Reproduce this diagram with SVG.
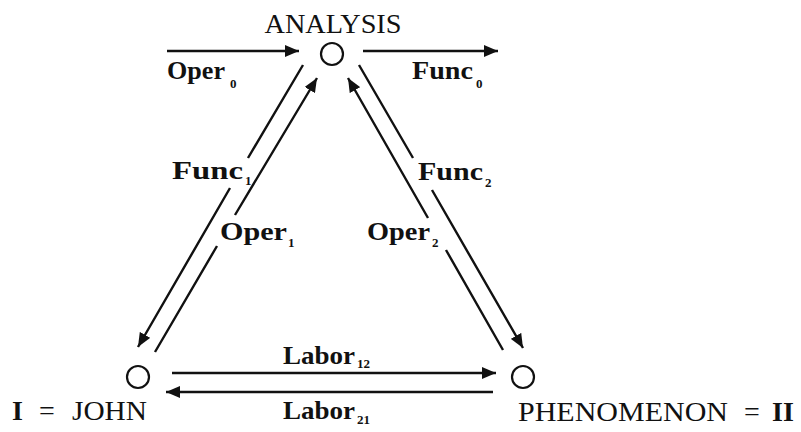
<svg xmlns="http://www.w3.org/2000/svg" width="801" height="432" viewBox="0 0 801 432">
<style>
text { font-family: "Liberation Serif", "DejaVu Serif", "Times New Roman", serif; fill: #111; }
.node { fill: none; stroke: #111; stroke-width: 2.2; }
.name { font-size: 28px; }
.lbl { font-size: 25px; font-weight: bold; }
.sub { font-size: 13px; font-weight: bold; }
.arr { fill: none; stroke: #111; stroke-width: 2.4; marker-end: url(#ah); }
</style>
<defs>
<marker id="ah" markerUnits="userSpaceOnUse" markerWidth="16" markerHeight="12" refX="14" refY="6" orient="auto">
<path d="M0,0 L14,6 L0,12 z" fill="#111"/>
</marker>
</defs>

<g id="analysis">
<circle class="node" cx="332" cy="54" r="11"/>
<text class="name" x="333" y="33" text-anchor="middle" textLength="137" lengthAdjust="spacingAndGlyphs">ANALYSIS</text>
</g>

<g id="john">
<circle class="node" cx="138" cy="377" r="11"/>
<text class="name" x="12" y="420"><tspan font-weight="bold">I</tspan><tspan x="39">=</tspan><tspan x="72" textLength="75" lengthAdjust="spacingAndGlyphs">JOHN</tspan></text>
</g>

<g id="phenomenon">
<circle class="node" cx="523" cy="377" r="11"/>
<text class="name" x="518" y="421"><tspan textLength="210" lengthAdjust="spacingAndGlyphs">PHENOMENON</tspan><tspan x="744">=</tspan><tspan x="772" font-weight="bold">II</tspan></text>
</g>

<g id="connectors">
<path class="arr" d="M167,51 L299,51"/>
<path class="arr" d="M363,51 L498,51"/>
<path class="arr" d="M303,65 L248,158 M230,188 L138,347"/>
<path class="arr" d="M155,352 L217,246 M235,215 L317,78"/>
<path class="arr" d="M359,65 L413,158 M432,190 L523,348"/>
<path class="arr" d="M503,350 L446,250 M428,218 L348,78"/>
<path class="arr" d="M172,373 L496,373"/>
<path class="arr" d="M493,392 L166,392"/>

<text class="lbl" x="167" y="79" textLength="58" lengthAdjust="spacingAndGlyphs">Oper</text><text class="sub" x="230" y="88">0</text>
<text class="lbl" x="412" y="79" textLength="61" lengthAdjust="spacingAndGlyphs">Func</text><text class="sub" x="476" y="88">0</text>
<text class="lbl" x="172" y="179" textLength="71" lengthAdjust="spacingAndGlyphs">Func</text><text class="sub" x="245" y="185">1</text>
<text class="lbl" x="220" y="240" textLength="67" lengthAdjust="spacingAndGlyphs">Oper</text><text class="sub" x="288" y="247">1</text>
<text class="lbl" x="418" y="180" textLength="65" lengthAdjust="spacingAndGlyphs">Func</text><text class="sub" x="485" y="187">2</text>
<text class="lbl" x="367" y="240" textLength="63" lengthAdjust="spacingAndGlyphs">Oper</text><text class="sub" x="432" y="247">2</text>
<text class="lbl" x="283" y="364" textLength="72" lengthAdjust="spacingAndGlyphs">Labor</text><text class="sub" x="357" y="368">12</text>
<text class="lbl" x="283" y="419" textLength="72" lengthAdjust="spacingAndGlyphs">Labor</text><text class="sub" x="357" y="424">21</text>
</g>
</svg>
